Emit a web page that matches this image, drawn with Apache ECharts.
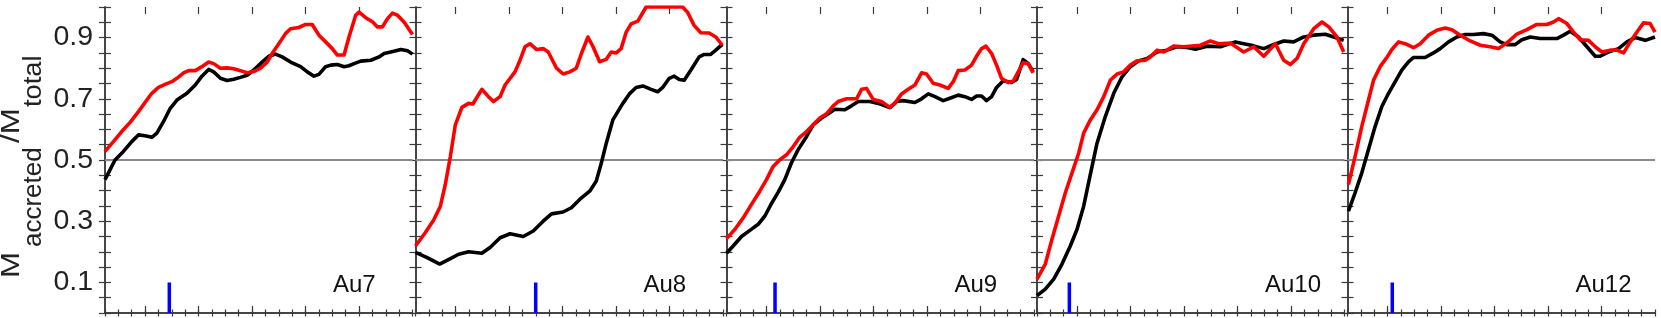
<!DOCTYPE html>
<html><head><meta charset="utf-8">
<script src="https://cdn.jsdelivr.net/npm/echarts@6/dist/echarts.min.js"></script>
<style>html,body{margin:0;padding:0;background:#fff}#c{width:1661px;height:318px}</style>
</head><body><div id="c"></div><script>
// ---- data ----
const panelNames = ['Au7', 'Au8', 'Au9', 'Au10', 'Au12'];
const yTickLabels = [0.1, 0.3, 0.5, 0.7, 0.9];
const xMajorTicks = [3, 7, 11, 15, 19];
const halfMassLevel = 0.5;
const markerX = [4.81, 8.99, 3.63, 2.42, 3.35];
const markerTop = 0.1;

const au7BlackX = [0,0.75,1.38,2,2.5,3,3.5,3.88,4.38,4.88,5.38,6.13,6.75,7.25,7.75,8.13,8.63,9.13,9.63,10.13,10.63,11.13,11.75,12.25,12.75,13.25,13.88,14.63,15.13,15.63,16,16.5,16.88,17.38,17.88,18.25,18.63,19.13,19.88,20.5,20.88,21.38,22.13,22.63,23];
const au7BlackY = [0.436,0.50,0.528,0.56,0.582,0.579,0.574,0.588,0.626,0.669,0.696,0.718,0.745,0.774,0.796,0.788,0.767,0.76,0.764,0.77,0.777,0.794,0.82,0.839,0.846,0.837,0.82,0.805,0.788,0.774,0.78,0.805,0.81,0.812,0.805,0.808,0.815,0.823,0.826,0.837,0.848,0.853,0.861,0.857,0.846];
const au7RedX = [0,0.63,1.25,1.88,2.5,3.13,3.5,4,4.5,5,5.38,5.88,6.25,6.75,7.25,7.75,8.13,8.63,9.13,9.63,10.13,10.63,11.13,11.63,12.13,12.5,13,13.5,13.88,14.5,15,15.5,16,16.5,17,17.38,17.88,18.25,18.75,19,19.5,20,20.38,20.75,21.13,21.5,21.88,22.38,23];
const au7RedY = [0.528,0.56,0.593,0.623,0.658,0.696,0.718,0.737,0.747,0.756,0.767,0.785,0.792,0.792,0.805,0.82,0.815,0.80,0.801,0.798,0.792,0.785,0.789,0.80,0.82,0.848,0.88,0.913,0.929,0.933,0.943,0.943,0.908,0.886,0.864,0.843,0.843,0.902,0.973,0.983,0.965,0.952,0.935,0.935,0.962,0.98,0.973,0.95,0.91];

const au8BlackX = [0,0.87,1.81,2.61,3.23,3.97,4.96,5.58,6.33,7.07,8.06,8.81,9.55,10.17,11.04,11.66,12.28,13.03,13.52,13.9,14.27,14.76,15.51,16,16.5,17,17.62,18.11,18.49,18.98,19.35,19.73,20.1,20.6,21.22,21.59,22.08,22.46,22.95];
const au8BlackY = [0.198,0.181,0.16,0.178,0.192,0.2,0.195,0.214,0.246,0.259,0.25,0.268,0.30,0.324,0.33,0.344,0.371,0.398,0.431,0.49,0.555,0.631,0.685,0.716,0.737,0.742,0.731,0.723,0.737,0.767,0.774,0.763,0.761,0.794,0.837,0.845,0.845,0.859,0.878];
const au8RedX = [0,0.74,1.36,1.86,2.23,2.61,2.98,3.47,3.97,4.29,4.96,5.46,5.83,6.33,6.7,7.44,7.82,8.19,8.56,9.06,9.55,9.93,10.55,11.04,11.54,12.03,12.41,12.9,13.28,13.77,14.27,14.64,15.01,15.38,15.76,16.13,16.63,17.25,19.98,20.35,20.84,21.34,21.96,22.46,22.95];
const au8RedY = [0.219,0.263,0.304,0.349,0.42,0.512,0.615,0.672,0.685,0.683,0.731,0.707,0.691,0.707,0.745,0.788,0.826,0.87,0.88,0.861,0.864,0.853,0.80,0.781,0.788,0.80,0.848,0.902,0.87,0.821,0.829,0.853,0.85,0.864,0.918,0.945,0.954,1.0,1.0,0.983,0.94,0.916,0.915,0.902,0.875];

const au9BlackX = [0,0.5,1.12,1.75,2.37,2.87,3.37,3.87,4.36,4.86,5.36,5.99,6.48,7.11,7.61,8.1,8.85,9.35,9.85,10.72,11.35,11.85,12.22,12.72,13.22,14.09,14.59,15.09,15.59,16.21,16.71,17.33,17.83,18.33,18.7,19.08,19.45,19.83,20.2,20.7,21.32,21.7,22.19,22.57,22.94];
const au9BlackY = [0.195,0.219,0.25,0.27,0.29,0.317,0.358,0.395,0.436,0.491,0.534,0.577,0.615,0.637,0.651,0.666,0.664,0.677,0.691,0.691,0.685,0.677,0.671,0.691,0.694,0.688,0.70,0.716,0.707,0.694,0.702,0.712,0.707,0.698,0.709,0.709,0.694,0.707,0.737,0.759,0.753,0.763,0.828,0.815,0.788];
const au9RedX = [0,0.62,1.25,1.87,2.49,2.99,3.49,3.99,4.49,4.99,5.49,5.99,6.48,6.98,7.48,7.98,8.35,8.98,9.73,10.1,10.47,10.97,11.6,12.22,12.59,13.09,13.59,14.09,14.59,14.96,15.46,15.96,16.58,16.96,17.33,17.83,18.33,18.7,19.08,19.4,19.83,20.2,20.57,21.07,21.45,21.82,22.19,22.57,22.94];
const au9RedY = [0.243,0.273,0.311,0.355,0.398,0.436,0.479,0.501,0.517,0.544,0.575,0.593,0.615,0.637,0.651,0.677,0.691,0.70,0.70,0.731,0.734,0.698,0.691,0.672,0.685,0.716,0.731,0.745,0.785,0.781,0.751,0.745,0.734,0.756,0.792,0.794,0.81,0.839,0.864,0.872,0.848,0.81,0.767,0.753,0.758,0.788,0.818,0.815,0.785];

const au10BlackX = [0,0.62,1.25,1.87,2.49,2.99,3.49,3.99,4.49,5.11,5.74,6.36,6.98,7.61,8.23,8.98,9.73,10.47,11.22,11.85,12.72,13.72,14.84,15.46,16.21,16.96,17.58,18.45,19.2,19.95,20.7,21.57,22.19,22.94];
const au10BlackY = [0.057,0.078,0.111,0.16,0.219,0.273,0.349,0.453,0.555,0.642,0.718,0.772,0.805,0.824,0.832,0.853,0.859,0.87,0.868,0.862,0.872,0.87,0.886,0.88,0.873,0.864,0.875,0.889,0.886,0.902,0.908,0.911,0.902,0.891];
const au10RedX = [0,0.62,1.12,1.62,2.12,2.62,3.12,3.49,3.99,4.49,4.99,5.49,5.99,6.48,6.98,7.48,8.1,8.48,8.98,9.48,10.22,10.97,12.22,12.97,13.59,14.46,15.46,16.21,16.96,17.83,18.45,18.95,19.45,19.95,20.7,21.32,21.82,22.44,22.94];
const au10RedY = [0.111,0.16,0.241,0.317,0.393,0.458,0.523,0.588,0.631,0.664,0.707,0.761,0.781,0.788,0.81,0.824,0.826,0.837,0.859,0.853,0.872,0.87,0.875,0.889,0.88,0.882,0.853,0.87,0.839,0.88,0.826,0.812,0.832,0.88,0.929,0.951,0.935,0.902,0.853];

const au12BlackX = [0.07,0.57,1.07,1.57,2.07,2.57,3.07,3.57,4.06,4.56,4.94,5.81,6.43,6.93,7.56,8.18,8.8,9.43,10.17,10.8,11.42,11.92,12.54,13.04,13.67,14.41,15.66,16.16,16.66,17.28,17.91,18.53,18.9,19.53,20.27,20.9,21.52,22.27,23];
const au12BlackY = [0.333,0.393,0.458,0.534,0.61,0.675,0.718,0.756,0.794,0.821,0.835,0.835,0.85,0.864,0.886,0.902,0.91,0.91,0.913,0.908,0.886,0.877,0.877,0.893,0.902,0.897,0.897,0.908,0.921,0.902,0.87,0.839,0.839,0.853,0.864,0.886,0.9,0.891,0.902];
const au12RedX = [0.07,0.57,1.07,1.57,1.95,2.44,2.94,3.32,3.82,4.31,4.94,5.44,6.06,6.68,7.31,7.81,8.43,9.18,9.93,10.67,11.3,11.92,12.67,13.42,14.16,14.91,15.41,15.79,16.41,16.91,17.41,18.03,18.53,19.03,19.65,20.15,20.65,21.15,21.65,22.14,22.64,23];
const au12RedY = [0.42,0.512,0.61,0.696,0.761,0.805,0.835,0.861,0.886,0.88,0.867,0.88,0.908,0.924,0.931,0.926,0.908,0.889,0.875,0.87,0.864,0.883,0.911,0.926,0.943,0.943,0.951,0.962,0.946,0.918,0.893,0.891,0.87,0.853,0.859,0.859,0.85,0.886,0.918,0.948,0.946,0.918];

// ---- build chart ----
const blackXs = [au7BlackX, au8BlackX, au9BlackX, au10BlackX, au12BlackX];
const blackYs = [au7BlackY, au8BlackY, au9BlackY, au10BlackY, au12BlackY];
const redXs = [au7RedX, au8RedX, au9RedX, au10RedX, au12RedX];
const redYs = [au7RedY, au8RedY, au9RedY, au10RedY, au12RedY];

const X_MIN = 0, X_MAX = 23;
const FONT = '"Liberation Sans", Arial, Helvetica, sans-serif';
const gridLefts = [105, 415.5, 726.5, 1037, 1347.5];
const gridW = 307.5, gridTop = 7, gridH = 306;
const frameColor = '#3a3a3a';
const frame = { show: true, lineStyle: { color: frameColor, width: 1.5 } };

const zip = (xs, ys) => xs.map((x, i) => [x, ys[i]]);

const grids = [], xAxes = [], yAxes = [], series = [], graphics = [];
panelNames.forEach((name, i) => {
  grids.push({ left: gridLefts[i], top: gridTop, width: gridW, height: gridH });
  const xBase = { type: 'value', gridIndex: i, min: X_MIN, max: X_MAX, interval: 1,
    axisLabel: { show: false }, splitLine: { show: false }, axisPointer: { show: false } };
  ['bottom', 'top'].forEach(pos => {
    xAxes.push(Object.assign({}, xBase, { position: pos, axisLine: frame,
      axisTick: { show: true, inside: true, length: 3.5, lineStyle: { color: frameColor, width: 1.2 } } }));
  });
  ['bottom', 'top'].forEach(pos => {
    xAxes.push(Object.assign({}, xBase, { position: pos, axisLine: { show: false },
      axisTick: { show: true, inside: true, length: 7, customValues: xMajorTicks, lineStyle: { color: frameColor, width: 1.2 } } }));
  });
  ['left', 'right'].forEach(pos => {
    yAxes.push({ type: 'value', gridIndex: i, position: pos, min: 0, max: 1, interval: 0.05,
      axisLine: frame, splitLine: { show: false },
      axisTick: { show: true, inside: true, length: 6, lineStyle: { color: frameColor, width: 1.2 } },
      axisLabel: (i === 0 && pos === 'left') ? { show: true, customValues: yTickLabels, margin: 12,
        color: '#222', fontSize: 28.5, fontFamily: FONT } : { show: false } });
  });
  const xi = 4 * i, yi = 2 * i;
  series.push({ type: 'line', xAxisIndex: xi, yAxisIndex: yi, data: [[X_MIN, halfMassLevel], [X_MAX, halfMassLevel]],
    symbol: 'none', silent: true, z: 1, lineStyle: { color: '#8a8a8a', width: 2 } });
  series.push({ type: 'line', xAxisIndex: xi, yAxisIndex: yi, data: [[markerX[i], 0], [markerX[i], markerTop]],
    symbol: 'none', silent: true, z: 2, lineStyle: { color: '#0000ff', width: 3.5, cap: 'butt' } });
  series.push({ type: 'line', xAxisIndex: xi, yAxisIndex: yi, data: zip(blackXs[i], blackYs[i]),
    symbol: 'none', silent: true, z: 3, lineStyle: { color: '#000000', width: 3.6, join: 'round' } });
  series.push({ type: 'line', xAxisIndex: xi, yAxisIndex: yi, data: zip(redXs[i], redYs[i]),
    symbol: 'none', silent: true, z: 4, lineStyle: { color: '#ff0000', width: 3.6, join: 'round' } });
  graphics.push({ type: 'text', x: gridLefts[i] + 228, y: 285, z: 10,
    style: { text: name, fontSize: 24, fontFamily: FONT, fill: '#111', align: 'left', verticalAlign: 'middle' } });
});

// y axis title pieces: M_accreted / M_total (rotated, reading upwards)
const titleParts = [
  { text: 'M', size: 26, sx: 1.2, x: 12, y: 278 },
  { text: 'accreted', size: 26, sx: 1.0, x: 34, y: 247 },
  { text: '/M', size: 26, sx: 1.2, x: 12, y: 143 },
  { text: 'total', size: 26, sx: 1.05, x: 34, y: 107 }
];
titleParts.forEach(p => graphics.push({ type: 'text', x: p.x, y: p.y, rotation: Math.PI / 2, scaleX: p.sx, scaleY: 1, z: 10,
  style: { text: p.text, fontSize: p.size, fontFamily: FONT, fill: '#222', align: 'left', verticalAlign: 'middle' } }));

const chart = echarts.init(document.getElementById('c'), null, { renderer: 'canvas' });
chart.setOption({ animation: false, backgroundColor: '#fff', grid: grids, xAxis: xAxes, yAxis: yAxes,
  series: series, graphic: graphics });
</script></body></html>
